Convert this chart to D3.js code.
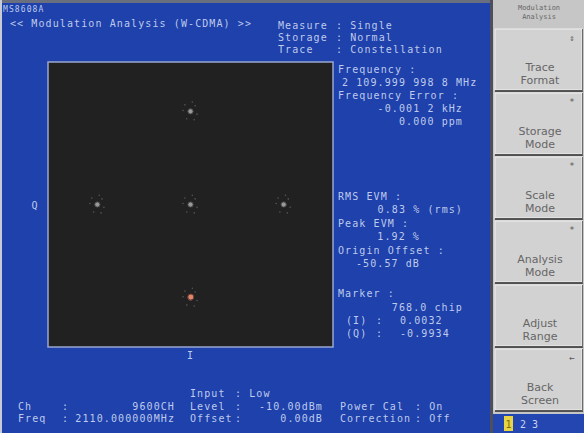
<!DOCTYPE html>
<html>
<head>
<meta charset="utf-8">
<script src="https://cdn.jsdelivr.net/npm/d3@7"></script>
<style>
  body { margin: 0; background: #1e41ab; }
  svg { display: block; }
</style>
</head>
<body>
<svg id="screen" width="584" height="433"></svg>
<script>
// constellation symbols (I, Q)
const symbolI = [0, -1, 0, 1, 0];
const symbolQ = [1, 0, 0, 0, -1];
// faint spread samples around each symbol, offsets in I/Q units
const spreadDI = [-0.06, 0.05, -0.04, 0.07, 0.02, -0.08, 0.04];
const spreadDQ = [0.07, 0.06, -0.08, -0.03, 0.1, 0.01, -0.09];
// marker
const markerI = 0.0032;
const markerQ = -0.9934;
const scaleMax = 1.53;

const headerRows = [
  ["Measure", "Single"],
  ["Storage", "Normal"],
  ["Trace", "Constellation"]
];
const resultLines = [
  { t: "Frequency :", y: 73, a: "start" },
  { t: "2 109.999 998 8 MHz", y: 86, a: "start", x: 342 },
  { t: "Frequency Error :", y: 99, a: "start" },
  { t: "-0.001 2 kHz", y: 112, a: "end" },
  { t: "0.000 ppm", y: 125, a: "end" },
  { t: "RMS EVM :", y: 200, a: "start" },
  { t: "0.83 % (rms)", y: 213, a: "end" },
  { t: "Peak EVM :", y: 227, a: "start" },
  { t: "1.92 %", y: 240, a: "end", x: 420 },
  { t: "Origin Offset :", y: 254, a: "start" },
  { t: "-50.57 dB", y: 267, a: "end", x: 420 },
  { t: "Marker :", y: 297, a: "start" },
  { t: "768.0 chip", y: 311, a: "end" }
];
const markerRows = [["(I)", "0.0032"], ["(Q)", "-0.9934"]];
const softkeys = [
  ["Trace", "Format"],
  ["Storage", "Mode"],
  ["Scale", "Mode"],
  ["Analysis", "Mode"],
  ["Adjust", "Range"],
  ["Back", "Screen"]
];
const softkeyMarks = ["\u21d5", "*", "*", "*", "", "\u2190"];

const svg = d3.select("#screen");
const mono = "'DejaVu Sans Mono', monospace";
const txt = "#bfcaec";

svg.append("rect").attr("width", 584).attr("height", 433).attr("fill", "#1e41ab");
svg.append("rect").attr("width", 584).attr("height", 3).attr("fill", "#6a6f80");
svg.append("rect").attr("y", 0).attr("width", 2).attr("height", 433).attr("fill", "#c8cbd6");

function label(x, y, s, anchor, size, color) {
  return svg.append("text")
    .attr("x", x).attr("y", y)
    .attr("text-anchor", anchor || "start")
    .attr("font-family", mono)
    .attr("font-size", size || 10)
    .attr("letter-spacing", 1.1)
    .attr("fill", color || txt)
    .text(s);
}

// header
label(3, 12, "MS8608A", "start", 8);
label(10, 27, "<< Modulation Analysis (W-CDMA) >>");
headerRows.forEach((r, i) => {
  label(278, 29 + i * 12, r[0]);
  label(336, 29 + i * 12, ": " + r[1]);
});

// plot
const plotL = 48, plotR = 333, plotT = 62, plotB = 347;
const x = d3.scaleLinear().domain([-scaleMax, scaleMax]).range([plotL, plotR]);
const y = d3.scaleLinear().domain([-scaleMax, scaleMax]).range([plotB, plotT]);

svg.append("rect")
  .attr("x", plotL).attr("y", plotT)
  .attr("width", plotR - plotL).attr("height", plotB - plotT)
  .attr("fill", "#222122")
  .attr("stroke", "#9aa6d0").attr("stroke-width", 1.5);

const symbols = symbolI.map((d, i) => ({ i: d, q: symbolQ[i] }));
const spread = [];
symbols.forEach((s) => {
  spreadDI.forEach((d, k) => spread.push({ i: s.i + d, q: s.q + spreadDQ[k] }));
});

svg.append("g").selectAll("circle")
  .data(spread)
  .join("circle")
  .attr("cx", (d) => x(d.i))
  .attr("cy", (d) => y(d.q))
  .attr("r", 0.8)
  .attr("fill", "#555559");

svg.append("g").selectAll("circle")
  .data(symbols)
  .join("circle")
  .attr("cx", (d) => x(d.i))
  .attr("cy", (d) => y(d.q))
  .attr("r", 2.6)
  .attr("fill", "#979a96")
  .attr("stroke", "#4a4b4a")
  .attr("stroke-width", 1);

svg.append("circle")
  .attr("cx", x(markerI)).attr("cy", y(markerQ))
  .attr("r", 3)
  .attr("fill", "#e0866a")
  .attr("stroke", "#6a3a30").attr("stroke-width", 1);

label(35, 209, "Q", "middle");
label(x(0), 359, "I", "middle");

// results
resultLines.forEach((d) => {
  label(d.x || (d.a === "end" ? 463 : 338), d.y, d.t, d.a);
});
markerRows.forEach((r, i) => {
  label(346, 324 + i * 13, r[0]);
  label(376, 324 + i * 13, ":");
  label(400, 324 + i * 13, r[1]);
});

// bottom status
label(190, 397, "Input");
label(235, 397, ": Low");
label(18, 410, "Ch");
label(62, 410, ":");
label(175, 410, "9600CH", "end");
label(190, 410, "Level");
label(235, 410, ":");
label(323, 410, "-10.00dBm", "end");
label(340, 410, "Power Cal");
label(415, 410, ": On");
label(18, 422, "Freq");
label(62, 422, ":");
label(175, 422, "2110.000000MHz", "end");
label(190, 422, "Offset");
label(235, 422, ":");
label(323, 422, "0.00dB", "end");
label(340, 422, "Correction");
label(415, 422, ": Off");

// softkey panel
const panel = svg.append("g");
panel.append("rect").attr("x", 490).attr("y", 0).attr("width", 94).attr("height", 433).attr("fill", "#c6c6c6");
panel.append("rect").attr("x", 490).attr("y", 0).attr("width", 3).attr("height", 433).attr("fill", "#4d4f5a");
panel.append("text").attr("x", 539).attr("y", 10).attr("text-anchor", "middle")
  .attr("font-family", mono).attr("font-size", 7).attr("fill", "#666").text("Modulation");
panel.append("text").attr("x", 539).attr("y", 19).attr("text-anchor", "middle")
  .attr("font-family", mono).attr("font-size", 7).attr("fill", "#666").text("Analysis");

softkeys.forEach((k, i) => {
  const ty = 29 + i * 64;
  panel.append("rect").attr("x", 495).attr("y", ty).attr("width", 87).attr("height", 61)
    .attr("fill", "#d2d2d2").attr("stroke", "#f0f0f0").attr("stroke-width", 1);
  panel.append("line").attr("x1", 495).attr("x2", 583).attr("y1", ty + 62).attr("y2", ty + 62)
    .attr("stroke", "#2a2a2a").attr("stroke-width", 1.5);
  panel.append("line").attr("x1", 582.5).attr("x2", 582.5).attr("y1", ty).attr("y2", ty + 62)
    .attr("stroke", "#6a6a6a").attr("stroke-width", 1);
  panel.append("text").attr("x", 572).attr("y", ty + 12).attr("text-anchor", "middle")
    .attr("font-family", mono).attr("font-size", 9).attr("fill", "#555").text(softkeyMarks[i]);
  k.forEach((w, j) => {
    panel.append("text").attr("x", 540).attr("y", ty + 42 + j * 13).attr("text-anchor", "middle")
      .attr("font-family", "'DejaVu Sans', sans-serif").attr("font-size", 11)
      .attr("fill", "#666").text(w);
  });
});

panel.append("rect").attr("x", 493).attr("y", 414).attr("width", 91).attr("height", 19).attr("fill", "#2346b0");
panel.append("rect").attr("x", 504).attr("y", 416).attr("width", 9).attr("height", 15).attr("fill", "#e8d440");
panel.append("text").attr("x", 508.5).attr("y", 428).attr("text-anchor", "middle")
  .attr("font-family", mono).attr("font-size", 10).attr("fill", "#7a6a10").text("1");
panel.append("text").attr("x", 520).attr("y", 428)
  .attr("font-family", mono).attr("font-size", 10).attr("fill", "#c9d2ee").text("2 3");
</script>
</body>
</html>
